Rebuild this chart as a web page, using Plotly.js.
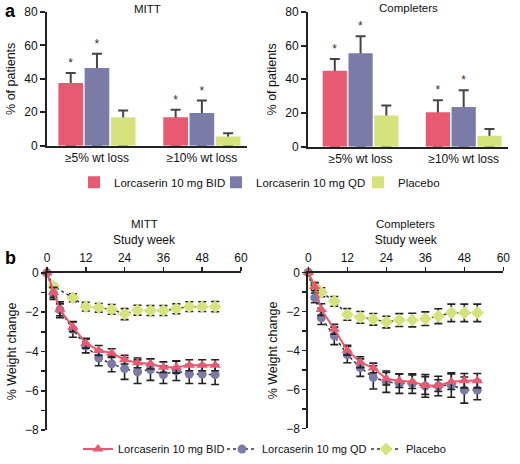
<!DOCTYPE html>
<html>
<head>
<meta charset="utf-8">
<script src="https://cdn.plot.ly/plotly-3.0.1.min.js"></script>
<style>html,body{margin:0;padding:0;background:#fff;}#chart{width:520px;height:464px;}</style>
</head>
<body>
<div id="chart"></div>
<script>
// ---------- DATA ----------
const categories = ["\u22655% wt loss", "\u226510% wt loss"];
const seriesNames = ["Lorcaserin 10 mg BID", "Lorcaserin 10 mg QD", "Placebo"];

// Panel a: % of patients
const mittBID = [37.5, 17];
const mittQD = [46.5, 19.5];
const mittPBO = [17, 5.5];
const mittBIDerr = [6, 4.5];
const mittQDerr = [8.5, 7.5];
const mittPBOerr = [4, 2];

const compBID = [45, 20.5];
const compQD = [55.5, 23.5];
const compPBO = [18.5, 6.5];
const compBIDerr = [7, 7];
const compQDerr = [10, 10];
const compPBOerr = [6, 4];

const starBID = ["*", "*"];
const starQD = ["*", "*"];
const starPBO = ["", ""];

// Panel b: % weight change by study week
const weeks = [0, 2, 4, 8, 12, 16, 20, 24, 28, 32, 36, 40, 44, 48, 52];
const mittPBOweeks = [0, 2, 8, 12, 16, 20, 24, 28, 32, 36, 40, 44, 48, 52];

const mittWBID = [0, -1.0, -1.88, -2.75, -3.58, -3.95, -4.08, -4.42, -4.58, -4.63, -4.8, -4.8, -4.7, -4.7, -4.7];
const mittWBIDerr = [0, 0.25, 0.3, 0.25, 0.25, 0.25, 0.22, 0.22, 0.25, 0.26, 0.27, 0.3, 0.28, 0.28, 0.28];
const mittWQD = [0, -1.05, -1.88, -2.88, -3.72, -4.33, -4.63, -4.87, -5.03, -4.92, -5.18, -4.98, -5.15, -5.15, -5.18];
const mittWQDerr = [0, 0.3, 0.4, 0.4, 0.35, 0.4, 0.4, 0.55, 0.6, 0.55, 0.45, 0.5, 0.48, 0.48, 0.5];
const mittWPBO = [0, -0.68, -1.27, -1.72, -1.78, -1.86, -2.1, -1.9, -1.92, -1.92, -1.83, -1.72, -1.72, -1.72];
const mittWPBOerr = [0, 0.1, 0.2, 0.22, 0.22, 0.25, 0.28, 0.25, 0.25, 0.25, 0.25, 0.25, 0.25, 0.26];

const compWBID = [0, -0.72, -1.9, -2.91, -3.99, -4.6, -4.9, -5.45, -5.55, -5.6, -5.8, -5.8, -5.6, -5.55, -5.55];
const compWBIDerr = [0, 0.2, 0.3, 0.25, 0.25, 0.28, 0.25, 0.32, 0.35, 0.35, 0.45, 0.3, 0.4, 0.37, 0.37];
const compWQD = [0, -1.3, -2.32, -3.25, -4.21, -4.88, -5.38, -5.6, -5.7, -5.7, -5.82, -5.82, -5.77, -6.03, -6.03];
const compWQDerr = [0, 0.25, 0.35, 0.45, 0.42, 0.45, 0.6, 0.55, 0.5, 0.5, 0.58, 0.5, 0.63, 0.67, 0.5];
const compWPBO = [0, -0.7, -1.01, -1.48, -2.15, -2.3, -2.4, -2.54, -2.44, -2.44, -2.37, -2.24, -2.07, -2.07, -2.07];
const compWPBOerr = [0, 0.15, 0.23, 0.25, 0.3, 0.3, 0.3, 0.3, 0.33, 0.35, 0.35, 0.38, 0.45, 0.45, 0.45];

const yTickVals = [-8, -7, -6, -5, -4, -3, -2, -1, 0];
const yTickText = ["\u22128", "", "\u22126", "", "\u22124", "", "\u22122", "", "0"];
const weekTicks = [0, 12, 24, 36, 48, 60];

// ---------- STYLE ----------
const C_BID = "#e85a71", C_QD = "#7b7ba7", C_PBO = "#d6e27c";
const FONT = "Liberation Sans, Arial, Helvetica, sans-serif";
const AX = "#222";
const W = 520, H = 464;
const px = x => x / W;
const py = y => 1 - y / H;

const traces = [];

function barPanel(xa, ya, vals, errs, stars, showLeg) {
  const colors = [C_BID, C_QD, C_PBO];
  // error-bar / asterisk carriers (drawn first, covered by real bars)
  vals.forEach((v, i) => {
    const top = v.map((d, k) => d + errs[i][k]);
    traces.push({
      type: "bar", x: categories, y: top, xaxis: xa, yaxis: ya,
      offsetgroup: "g" + i, marker: {color: "rgba(0,0,0,0)"},
      text: stars[i], textposition: "outside", cliponaxis: false,
      textfont: {family: FONT, size: 12, color: "#333"},
      error_y: {type: "data", symmetric: false, array: v.map(() => 0), arrayminus: top,
                color: "#444", thickness: 2, width: 5},
      showlegend: false, hoverinfo: "skip"
    });
  });
  vals.forEach((v, i) => {
    traces.push({
      type: "bar", x: categories, y: v, xaxis: xa, yaxis: ya,
      offsetgroup: "g" + i, name: seriesNames[i],
      marker: {color: colors[i]}, legend: "legend",
      showlegend: showLeg, legendrank: i + 1
    });
  });
}
barPanel("x", "y", [mittBID, mittQD, mittPBO], [mittBIDerr, mittQDerr, mittPBOerr], [starBID, starQD, starPBO], true);
barPanel("x2", "y2", [compBID, compQD, compPBO], [compBIDerr, compQDerr, compPBOerr], [starBID, starQD, starPBO], false);

function linePanel(xa, ya, wB, b, be, q, qe, wP, p, pe, showLeg) {
  traces.push({
    type: "scatter", mode: "lines+markers", x: wP, y: p, xaxis: xa, yaxis: ya,
    name: seriesNames[2], legend: "legend2", legendrank: 3, showlegend: showLeg,
    line: {color: "#333", dash: "dot", width: 1.5},
    marker: {symbol: "diamond", size: 10, color: C_PBO},
    error_y: {type: "data", array: pe, color: "#222", thickness: 1.6, width: 4},
    cliponaxis: false
  });
  traces.push({
    type: "scatter", mode: "lines+markers", x: wB, y: q, xaxis: xa, yaxis: ya,
    name: seriesNames[1], legend: "legend2", legendrank: 2, showlegend: showLeg,
    line: {color: "#333", dash: "dot", width: 1.5},
    marker: {symbol: "circle", size: 9, color: C_QD},
    error_y: {type: "data", array: qe, color: "#222", thickness: 1.6, width: 4},
    cliponaxis: false
  });
  traces.push({
    type: "scatter", mode: "lines+markers", x: wB, y: b, xaxis: xa, yaxis: ya,
    name: seriesNames[0], legend: "legend2", legendrank: 1, showlegend: showLeg,
    line: {color: C_BID, width: 2},
    marker: {symbol: "triangle-up", size: 10, color: C_BID},
    error_y: {type: "data", array: be, color: "#222", thickness: 1.6, width: 4},
    cliponaxis: false
  });
}
linePanel("x3", "y3", weeks, mittWBID, mittWBIDerr, mittWQD, mittWQDerr, mittPBOweeks, mittWPBO, mittWPBOerr, true);
linePanel("x4", "y4", weeks, compWBID, compWBIDerr, compWQD, compWQDerr, weeks, compWPBO, compWPBOerr, false);

const tickFont = {family: FONT, size: 12, color: "#111"};
const titleFont = {family: FONT, size: 12.5, color: "#111"};

function catAxis(dom, anchor, range) {
  return {domain: dom, anchor: anchor, type: "category", range: range,
    showline: true, linewidth: 2, linecolor: AX, ticks: "", showgrid: false,
    zeroline: false, tickfont: tickFont, automargin: false, fixedrange: true};
}
function pctAxis(dom, anchor) {
  return {domain: dom, anchor: anchor, range: [0, 80], tickvals: [0, 20, 40, 60, 80],
    showline: true, linewidth: 2, linecolor: AX, ticks: "outside", ticklen: 5,
    tickwidth: 2, tickcolor: AX, showgrid: false, zeroline: false, tickfont: tickFont,
    title: {text: "% of patients", font: titleFont, standoff: 6}, automargin: false, fixedrange: true};
}
function weekAxis(dom, anchor) {
  return {domain: dom, anchor: anchor, side: "top", range: [0, 60], tickvals: weekTicks,
    showline: true, linewidth: 2, linecolor: AX, ticks: "outside", ticklen: 4,
    tickwidth: 1.5, tickcolor: AX, showgrid: false, zeroline: false, tickfont: tickFont,
    title: {text: "Study week", font: {family: FONT, size: 12, color: "#111"}, standoff: 4},
    automargin: false, fixedrange: true};
}
function wtAxis(dom, anchor) {
  return {domain: dom, anchor: anchor, range: [-8, 0], tickvals: yTickVals, ticktext: yTickText,
    showline: true, linewidth: 2, linecolor: AX, ticks: "outside", ticklen: 4,
    tickwidth: 1.5, tickcolor: AX, showgrid: false, zeroline: false, tickfont: tickFont,
    title: {text: "% Weight change", font: titleFont, standoff: 6}, automargin: false, fixedrange: true};
}

const layout = {
  width: W, height: H, margin: {l: 0, r: 0, t: 0, b: 0},
  paper_bgcolor: "#fff", plot_bgcolor: "rgba(0,0,0,0)",
  font: {family: FONT, color: "#111"},
  barmode: "group", bargap: 0.25, bargroupgap: 0.06,
  xaxis: catAxis([px(47), px(247)], "y", [-0.476, 1.43]),
  yaxis: pctAxis([py(148), py(12)], "x"),
  xaxis2: catAxis([px(308), px(508)], "y2", [-0.51, 1.43]),
  yaxis2: pctAxis([py(149), py(12)], "x2"),
  xaxis3: weekAxis([px(47), px(241)], "y3"),
  yaxis3: wtAxis([py(436.7), py(277)], "x3"),
  xaxis4: weekAxis([px(308.3), px(503.3)], "y4"),
  yaxis4: wtAxis([py(435), py(276.7)], "x4"),
  showlegend: true,
  legend: {orientation: "h", x: px(74), xanchor: "left", y: py(185), yanchor: "middle",
    entrywidth: 97, entrywidthmode: "pixels",
    font: {family: FONT, size: 11.5, color: "#111"}, bgcolor: "rgba(0,0,0,0)", traceorder: "normal"},
  legend2: {orientation: "h", x: px(78), xanchor: "left", y: py(456), yanchor: "middle",
    entrywidth: 99, entrywidthmode: "pixels",
    font: {family: FONT, size: 11, color: "#111"}, bgcolor: "rgba(0,0,0,0)", traceorder: "normal"},
  annotations: [
    {text: "MITT", xref: "x domain", x: 0.5, yref: "paper", y: py(9), showarrow: false,
     font: {family: FONT, size: 11.5}, xanchor: "center", yanchor: "middle"},
    {text: "Completers", xref: "x2 domain", x: 0.5, yref: "paper", y: py(8), showarrow: false,
     font: {family: FONT, size: 11.5}, xanchor: "center", yanchor: "middle"},
    {text: "MITT", xref: "x3 domain", x: 0.5, yref: "paper", y: py(227), showarrow: false,
     font: {family: FONT, size: 11.5}, xanchor: "center", yanchor: "middle"},
    {text: "Completers", xref: "x4 domain", x: 0.5, yref: "paper", y: py(227), showarrow: false,
     font: {family: FONT, size: 11.5}, xanchor: "center", yanchor: "middle"},
    {text: "<b>a</b>", xref: "paper", x: px(10), yref: "paper", y: py(11), showarrow: false,
     font: {family: FONT, size: 18, color: "#000"}, xanchor: "center", yanchor: "middle"},
    {text: "<b>b</b>", xref: "paper", x: px(10), yref: "paper", y: py(262), showarrow: false,
     font: {family: FONT, size: 18, color: "#000"}, xanchor: "center", yanchor: "middle"}
  ]
};

Plotly.newPlot("chart", traces, layout, {displayModeBar: false, staticPlot: true});
</script>
</body>
</html>
